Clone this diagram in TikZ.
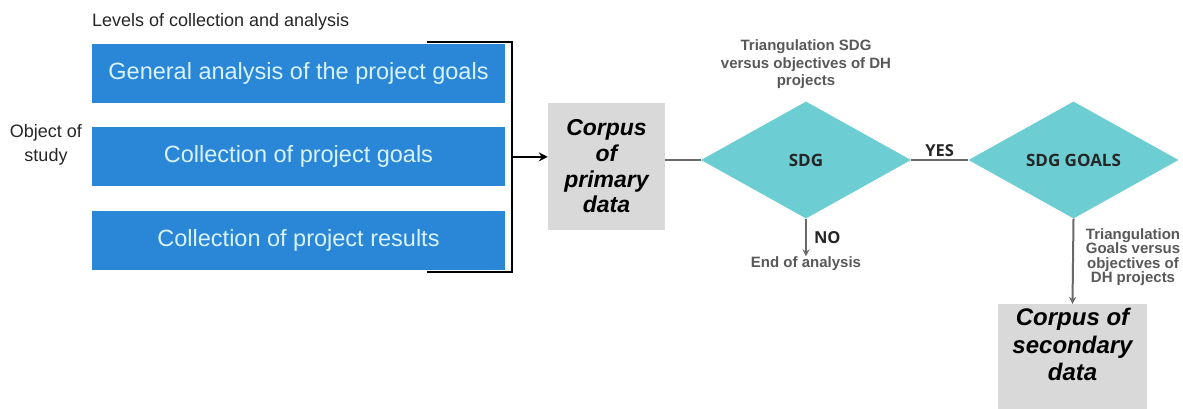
\documentclass[tikz,border=0pt]{standalone}
\usepackage{fontspec}
\setmainfont{Liberation Sans}
\newfontfamily\decfont{Open Sans}
\usepackage{tikz}
\usetikzlibrary{arrows.meta,positioning,shapes.geometric}
\definecolor{levelblue}{RGB}{42,134,214}
\definecolor{leveltext}{RGB}{216,243,252}
\definecolor{decteal}{RGB}{108,205,211}
\definecolor{corpusgray}{RGB}{217,217,217}
\definecolor{notegray}{RGB}{88,88,88}
\definecolor{flowgray}{RGB}{105,105,105}

\begin{document}
\begin{tikzpicture}[x=1pt, y=-1pt, >=Stealth,
  levelbox/.style={rectangle, fill=levelblue, text=leveltext, minimum width=413pt, minimum height=59pt, font=\fontsize{23.5}{28}\selectfont},
  corpusbox/.style={rectangle, fill=corpusgray, align=center, font=\fontsize{23}{25.7}\selectfont\bfseries\itshape},
  decision/.style={diamond, fill=decteal, aspect=1.8, inner sep=0pt, minimum width=210pt, minimum height=117pt, text=black!85, font=\decfont\fontsize{17}{20}\selectfont\bfseries},
  note/.style={inner sep=0pt, align=center, text=notegray, font=\fontsize{15}{17.5}\selectfont\bfseries},
  answer/.style={inner sep=0pt, text=black!85, font=\decfont\fontsize{16.5}{20}\selectfont\bfseries},
  flow/.style={flowgray, line width=2pt}]
\useasboundingbox (0,0) rectangle (1183,408);

\node (analysis) [levelbox] at (298.5,73.5) {General analysis of the project goals};
\node (collect) [levelbox, below=24pt of analysis] {Collection of project goals};
\node (results) [levelbox, below=24pt of collect] {Collection of project results};
\node (levels) [inner sep=0pt, text=black!85, font=\fontsize{18}{22}\selectfont, above right=13pt and 0pt of analysis.north west] {Levels of collection and analysis};
\node (object) [inner sep=0pt, align=center, text=black!85, font=\fontsize{18}{24}\selectfont] at (46,145) {Object of\\study};

\node (primary) [corpusbox, minimum width=117pt, minimum height=127pt] at (606.5,166.5) {Corpus\\of\\primary\\data};
\node (sdg) [decision] at (806,160) {SDG};
\node (sdggoals) [decision] at (1073.5,160) {SDG GOALS};
\node (trisdg) [note, above=12pt of sdg] {Triangulation SDG\\versus objectives of DH\\projects};
\node (endnote) [note] at (806,263.5) {End of analysis};
\node (secondary) [corpusbox, anchor=north, minimum width=149pt, inner ysep=4pt, text depth=30pt, font=\fontsize{24}{27.5}\selectfont\bfseries\itshape] at (1072.5,304) {Corpus of\\secondary\\data};
\node (trigoals) [note, font=\fontsize{15}{14.5}\selectfont\bfseries] at (1133,257) {Triangulation\\Goals versus\\objectives of\\DH projects};

\coordinate (bracket) at ([xshift=7pt]collect.east);
\draw[line width=2pt] ([xshift=-78pt,yshift=2pt]analysis.north east) -| (bracket) |- ([xshift=-78pt,yshift=-2pt]results.south east);
\draw[-{Stealth[length=9pt,width=9pt]}, line width=2pt] (bracket) -- (bracket -| primary.west);
\draw[flow] (primary.east |- sdg.west) -- (sdg.west);
\draw[flow] (sdg.east) -- (sdggoals.west) node[answer, midway, above=2pt] {YES};
\draw[flow, -{Stealth[length=7pt,width=7pt]}] (sdg.south) -- (endnote.north) node[answer, midway, right=7pt] {NO};
\draw[flow, -{Stealth[length=7pt,width=7pt]}] (sdggoals.south) -- (secondary.north);
\end{tikzpicture}
\end{document}
